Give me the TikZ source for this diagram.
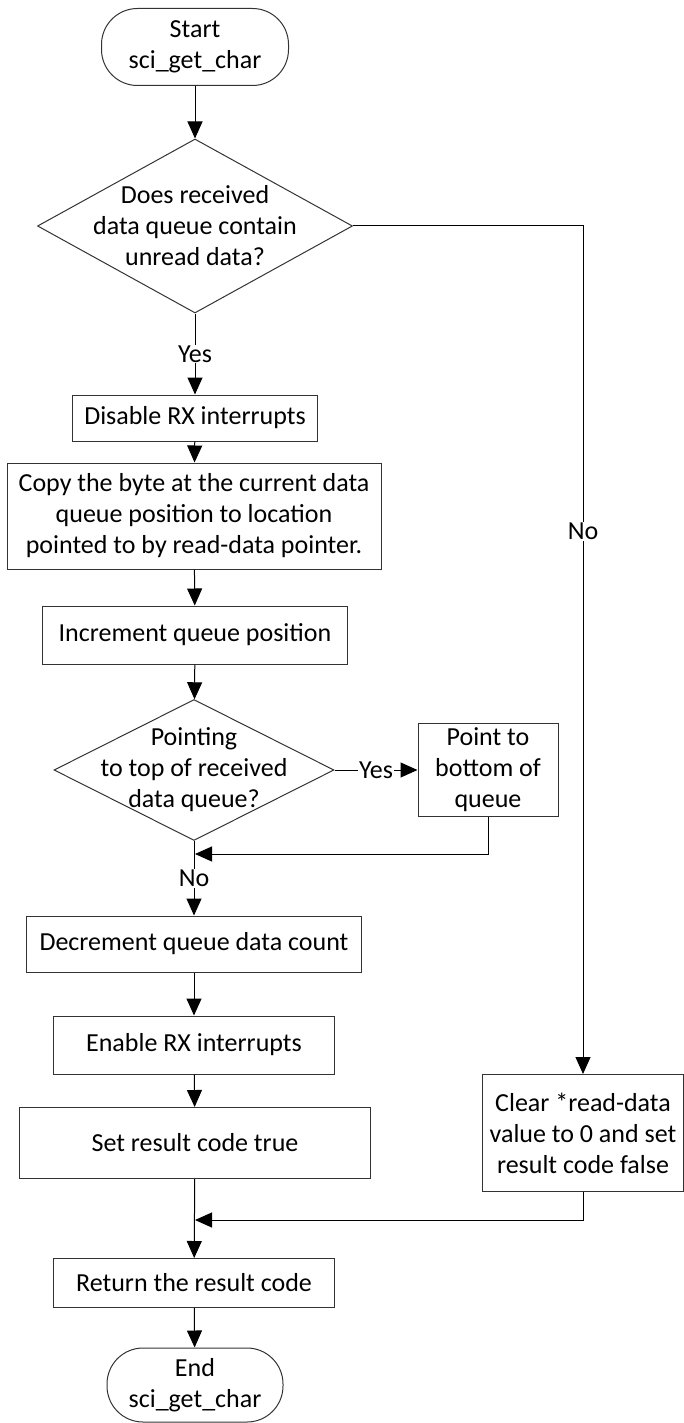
\documentclass[tikz,border=0pt]{standalone}
\usepackage{fontspec}
\setmainfont{Carlito}
\usetikzlibrary{shapes.geometric,arrows.meta}

\begin{document}
\begin{tikzpicture}[x=1pt, y=-1pt,
    font=\fontsize{26}{31}\selectfont,
    every node/.style={align=center, inner sep=0pt},
    box/.style={draw=black!80, line width=1pt, rectangle},
    term/.style={box, rounded corners=36pt},
    decision/.style={draw=black!80, line width=1pt, diamond},
    tag/.style={fill=white, inner sep=1pt},
    link/.style={line width=1pt, -{Triangle[length=17pt, width=15pt]}}]
  \useasboundingbox (0,0) rectangle (684,1423);

  % Main column of steps
  \node[term, minimum width=187pt, minimum height=77pt] (start) at (195,47)
       {Start\\sci\_get\_char};
  \node[decision, minimum width=315pt, minimum height=174pt] (dq) at (195,226) {};
  \node (dqtext) at (dq) {Does received\\data queue contain\\unread data?};
  \node[box, minimum width=245pt, minimum height=46pt] (disable) at (195,418)
       {Disable RX interrupts};
  \node[box, minimum width=374pt, minimum height=106pt] (copy) at (194,516)
       {Copy the byte at the current data\\queue position to location\\pointed to by read-data pointer.};
  \node[box, minimum width=305pt, minimum height=58pt] (incr) at (195,635)
       {Increment queue position};
  \node[decision, minimum width=280pt, minimum height=141pt] (dtop) at (194,770) {};
  \node (dtoptext) at (dtop) {Pointing\\to top of received\\data queue?};
  \node[box, minimum width=140pt, minimum height=93pt] (point) at (488,770)
       {Point to\\bottom of\\queue};
  \node[box, minimum width=335pt, minimum height=56pt] (decr) at (194,944)
       {Decrement queue data count};
  \node[box, minimum width=281pt, minimum height=58pt] (enable) at (194,1045)
       {Enable RX interrupts};
  \node[box, minimum width=351pt, minimum height=71pt] (setres) at (195,1143)
       {Set result code true};
  \node[box, minimum width=281pt, minimum height=49pt] (ret) at (194,1283)
       {Return the result code};
  \node[term, minimum width=176pt, minimum height=74pt] (end) at (195,1385)
       {End\\sci\_get\_char};

  % Branch taken when the queue is empty
  \node[box, minimum width=201pt, minimum height=117pt] (clear) at (583,1133)
       {Clear *read-data\\value to 0 and set\\result code false};

  % Points where the side branches rejoin
  \coordinate (join1) at (195,854);
  \coordinate (join2) at (195,1220);

  % Connectors
  \draw[link] (start) -- (dq);
  \draw[link] (dq) -- node[tag] (yes1) {Yes} (disable);
  \draw[link] (disable) -- (copy);
  \draw[link] (copy) -- (incr);
  \draw[link] (incr) -- (dtop);
  \draw[link] (dtop) -- node[tag] (yes2) {Yes} (point);
  \draw[link] (point.south) |- (join1);
  \draw[link] (dtop) -- node[tag] (no2) {No} (decr);
  \draw[link] (decr) -- (enable);
  \draw[link] (enable) -- (setres);
  \draw[link] (setres) -- (ret);
  \draw[link] (ret) -- (end);
  \draw[link] (dq.east) -| node[tag, pos=0.68] (no1) {No} (clear.north);
  \draw[link] (clear.south) |- (join2);
\end{tikzpicture}
\end{document}
